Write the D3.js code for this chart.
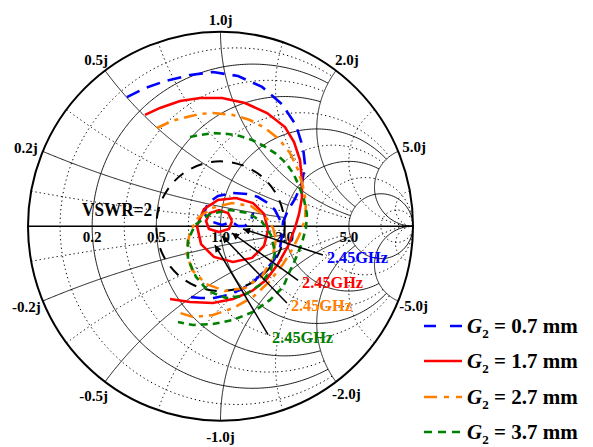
<!DOCTYPE html>
<html>
<head>
<meta charset="utf-8">
<script src="https://cdn.jsdelivr.net/npm/d3@7"></script>
<style>
  html, body { margin: 0; padding: 0; background: #fff; }
  svg text { font-family: "Liberation Serif", "Times New Roman", serif; font-weight: bold; }
</style>
</head>
<body>
<svg id="chart" width="593" height="447"></svg>
<script>
// ---- Smith chart grid values -------------------------------------------
const rMajor = [0.2, 0.5, 1, 2, 5];
const rMajorLimit = [2, 2, 5, 5, Infinity];          // |x| up to which each r-circle runs
const rMinor = [1 / 11, 1 / 3, 5 / 7, 1.4, 3, 11];
const rMinorLimit = [2, 2, 5, 5, Infinity, Infinity];
const xMajor = [0.2, 0.5, 1, 2, 5];
const xMajorLimit = [2, 2, 5, 5, Infinity];          // r up to which each x-arc runs
const xMinor = [1 / 11, 1 / 3, 5 / 7, 1.4, 3, 11];
const xMinorLimit = [2, 2, 5, 5, Infinity, Infinity];

const rTickLabels = ["0.2", "0.5", "1.0", "2.0", "5.0"];
const xTickLabels = ["0.2j", "0.5j", "1.0j", "2.0j", "5.0j"];
const xTickLabelsNeg = ["-0.2j", "-0.5j", "-1.0j", "-2.0j", "-5.0j"];
const vswr = 2;

// ---- reflection coefficient traces [Re Γ, Im Γ] -------------------------
const g07Sweep = [[-0.486,0.664],[-0.392,0.710],[-0.288,0.746],[-0.158,0.777],[-0.039,0.793],[0.091,0.772],
  [0.216,0.716],[0.319,0.628],[0.392,0.520],[0.429,0.402],[0.439,0.315],[0.423,0.222],[0.387,0.140],
  [0.351,0.083],[0.325,0.022],[0.319,-0.050],[0.309,-0.112],[0.278,-0.174],[0.231,-0.230],[0.174,-0.282],
  [0.112,-0.323],[0.039,-0.354],[-0.034,-0.369],[-0.106,-0.369],[-0.158,-0.364]];
const g07Loop = [[0.309,0.032],[0.283,0.083],[0.247,0.119],[0.195,0.150],[0.138,0.166],[0.065,0.171],
  [-0.013,0.155],[-0.065,0.119],[-0.086,0.068],[-0.055,0.027],[0.008,0.006],[0.060,0.022],[0.091,0.001],
  [0.127,0.001],[0.158,0.027],[0.169,0.068]];

const g17Sweep = [[-0.392,0.572],[-0.314,0.608],[-0.210,0.644],[-0.106,0.659],[0.008,0.659],[0.127,0.633],
  [0.242,0.582],[0.335,0.510],[0.382,0.433],[0.413,0.340],[0.423,0.238],[0.423,0.145],[0.408,0.063],
  [0.387,-0.009],[0.351,-0.102],[0.299,-0.194],[0.236,-0.277],[0.164,-0.333],[0.065,-0.374],[-0.039,-0.395],
  [-0.158,-0.390],[-0.262,-0.374]];
const g17Loop = [[0.247,-0.020],[0.226,-0.102],[0.164,-0.163],[0.065,-0.184],[-0.034,-0.158],[-0.101,-0.092],
  [-0.122,0.001],[-0.086,0.088],[-0.013,0.135],[0.081,0.145],[0.169,0.119],[0.226,0.063],[0.247,-0.020]];
const g17InnerLoop = [[0.060,0.027],[0.044,-0.014],[-0.008,-0.030],[-0.060,-0.014],[-0.075,0.027],
  [-0.055,0.068],[-0.008,0.083],[0.039,0.068],[0.060,0.027]];

const g27Sweep = [[-0.330,0.505],[-0.252,0.541],[-0.174,0.561],[-0.106,0.577],[-0.039,0.582],[0.065,0.572],
  [0.153,0.546],[0.231,0.505],[0.304,0.448],[0.361,0.376],[0.403,0.289],[0.429,0.202],[0.444,0.119],
  [0.439,0.032],[0.408,-0.050],[0.371,-0.122],[0.325,-0.194],[0.257,-0.282],[0.169,-0.364],[0.065,-0.421],
  [-0.039,-0.457],[-0.143,-0.467],[-0.210,-0.446]];
const g27Loop = [[0.288,-0.071],[0.268,-0.169],[0.216,-0.256],[0.127,-0.318],[0.023,-0.333],[-0.075,-0.297],
  [-0.148,-0.225],[-0.179,-0.128],[-0.158,-0.030],[-0.117,0.042],[-0.044,0.094],[0.060,0.119],[0.158,0.104],
  [0.231,0.052],[0.273,-0.009],[0.288,-0.071]];

const g37Sweep = [[-0.158,0.459],[-0.106,0.469],[-0.039,0.479],[0.039,0.474],[0.101,0.464],[0.164,0.443],
  [0.226,0.412],[0.283,0.376],[0.335,0.330],[0.377,0.274],[0.408,0.207],[0.434,0.135],[0.449,0.063],
  [0.444,-0.009],[0.423,-0.086],[0.392,-0.163],[0.356,-0.241],[0.325,-0.313],[0.257,-0.379],[0.169,-0.441],
  [0.065,-0.482],[-0.039,-0.503],[-0.143,-0.508],[-0.221,-0.493]];
const g37Loop = [[0.283,-0.133],[0.262,-0.225],[0.205,-0.302],[0.117,-0.359],[0.029,-0.369],[-0.065,-0.333],
  [-0.127,-0.261],[-0.169,-0.169],[-0.169,-0.071],[-0.132,0.006],[-0.055,0.063],[0.049,0.083],[0.143,0.068],
  [0.216,0.022],[0.262,-0.045],[0.283,-0.133]];

// 2.45 GHz markers: point on the trace and the label anchor
const markerPoints = [[0.117,-0.014],[0.060,-0.035],[0.008,-0.050],[-0.029,-0.097]];
const markerTails = [[0.532,-0.148],[0.403,-0.279],[0.345,-0.395],[0.247,-0.557]];
const markerText = "2.45GHz";

const seriesNames = ["0.7 mm", "1.7 mm", "2.7 mm", "3.7 mm"];
const seriesColors = ["#0000ff", "#ff0000", "#ff8000", "#008000"];
const seriesDash = ["14,8", null, "13,6,4,6", "7,5"];
const legendDash = ["12,14", null, "13,7,5,7", "8,6"];
const seriesTraces = [[g07Sweep, g07Loop], [g17Sweep, g17Loop, g17InnerLoop], [g27Sweep, g27Loop], [g37Sweep, g37Loop]];

// ---- layout ---------------------------------------------------------------
const cx = 220.5, cy = 226.2, rx = 192.5, ry = 194.5;
const svg = d3.select("#chart");
const xs = d3.scaleLinear().domain([-1, 1]).range([cx - rx, cx + rx]);
const ys = d3.scaleLinear().domain([-1, 1]).range([cy + ry, cy - ry]);
const line = d3.line().x(d => xs(d[0])).y(d => ys(d[1]));

// z = r + jx  ->  Γ
function gamma(r, x) {
  const d = (r + 1) * (r + 1) + x * x;
  return [(r * r + x * x - 1) / d, (2 * x) / d];
}
function rCircle(r, xmax) {
  const tmax = isFinite(xmax) ? Math.atan(xmax) : Math.PI / 2 - 1e-4;
  return d3.range(0, 401).map(i => gamma(r, Math.tan(-tmax + 2 * tmax * i / 400)));
}
function xArc(x, rmax) {
  const smax = isFinite(rmax) ? Math.atan(rmax) : Math.PI / 2 - 1e-4;
  return d3.range(0, 301).map(i => gamma(Math.tan(smax * i / 300), x));
}

svg.append("defs").append("clipPath").attr("id", "unit")
  .append("ellipse").attr("cx", cx).attr("cy", cy).attr("rx", rx).attr("ry", ry);

const grid = svg.append("g").attr("clip-path", "url(#unit)").attr("fill", "none");

// minor (dotted) grid
rMinor.forEach((r, i) => grid.append("path").attr("d", line(rCircle(r, rMinorLimit[i])))
  .attr("stroke", "#000").attr("stroke-width", 1).attr("stroke-dasharray", "1.3,3"));
xMinor.forEach((x, i) => [x, -x].forEach(v => grid.append("path").attr("d", line(xArc(v, xMinorLimit[i])))
  .attr("stroke", "#000").attr("stroke-width", 1).attr("stroke-dasharray", "1.3,3")));
// major (solid) grid
rMajor.forEach((r, i) => grid.append("path").attr("d", line(rCircle(r, rMajorLimit[i])))
  .attr("stroke", "#000").attr("stroke-width", 0.9));
xMajor.forEach((x, i) => [x, -x].forEach(v => grid.append("path").attr("d", line(xArc(v, xMajorLimit[i])))
  .attr("stroke", "#000").attr("stroke-width", 0.9)));

// real axis and outer circle
svg.append("line").attr("x1", xs(-1)).attr("x2", xs(1)).attr("y1", ys(0)).attr("y2", ys(0))
  .attr("stroke", "#000").attr("stroke-width", 1.6);
svg.append("ellipse").attr("cx", cx).attr("cy", cy).attr("rx", rx).attr("ry", ry)
  .attr("fill", "none").attr("stroke", "#000").attr("stroke-width", 2);

// tick labels
const tickFont = 15;
rMajor.forEach((r, i) => svg.append("text").attr("x", xs(gamma(r, 0)[0])).attr("y", ys(0) + 16)
  .attr("text-anchor", "middle").attr("font-size", tickFont).text(rTickLabels[i]));
const posOffsets = [[-5, 2, "end"], [3, -6, "end"], [0, -7, "middle"], [-1, -6, "start"], [4, 1, "start"]];
const negOffsets = [[-2, 11, "end"], [3, 19, "end"], [0, 21, "middle"], [-4, 17, "start"], [1, 10, "start"]];
xMajor.forEach((x, i) => {
  const p = gamma(0, x), n = gamma(0, -x);
  svg.append("text").attr("x", xs(p[0]) + posOffsets[i][0]).attr("y", ys(p[1]) + posOffsets[i][1])
    .attr("text-anchor", posOffsets[i][2]).attr("font-size", tickFont).text(xTickLabels[i]);
  svg.append("text").attr("x", xs(n[0]) + negOffsets[i][0]).attr("y", ys(n[1]) + negOffsets[i][1])
    .attr("text-anchor", negOffsets[i][2]).attr("font-size", tickFont).text(xTickLabelsNeg[i]);
});

// VSWR = 2 circle, |Γ| = (s-1)/(s+1)
const gv = (vswr - 1) / (vswr + 1);
svg.append("ellipse").attr("cx", xs(0)).attr("cy", ys(0))
  .attr("rx", xs(gv) - xs(0)).attr("ry", ys(0) - ys(gv))
  .attr("fill", "none").attr("stroke", "#000").attr("stroke-width", 2).attr("stroke-dasharray", "12,9");
svg.append("text").attr("x", 82).attr("y", 216).attr("font-size", 19)
  .attr("textLength", 70).attr("lengthAdjust", "spacingAndGlyphs").text("VSWR=" + vswr);

// traces
seriesTraces.forEach((traces, i) => traces.forEach(tr => svg.append("path").attr("d", line(tr))
  .attr("fill", "none").attr("stroke", seriesColors[i]).attr("stroke-width", 2.6)
  .attr("stroke-dasharray", seriesDash[i])));

// 2.45 GHz arrows
svg.select("defs").append("marker").attr("id", "head").attr("viewBox", "0 0 10 10")
  .attr("refX", 10).attr("refY", 5).attr("markerWidth", 10).attr("markerHeight", 7)
  .attr("markerUnits", "userSpaceOnUse").attr("orient", "auto")
  .append("path").attr("d", "M0,0L10,5L0,10Z").attr("fill", "#000");
markerPoints.forEach((p, i) => {
  const t = markerTails[i];
  svg.append("line").attr("x1", xs(t[0])).attr("y1", ys(t[1])).attr("x2", xs(p[0])).attr("y2", ys(p[1]))
    .attr("stroke", "#000").attr("stroke-width", 1.5).attr("marker-end", "url(#head)");
  svg.append("text").attr("x", xs(t[0]) + 4).attr("y", ys(t[1]) + 8).attr("font-size", 17)
    .attr("textLength", 61).attr("lengthAdjust", "spacingAndGlyphs")
    .attr("fill", seriesColors[i]).text(markerText);
});

// legend
const legendY = [326, 361, 397, 432];
seriesNames.forEach((name, i) => {
  const y = legendY[i];
  svg.append("line").attr("x1", 424).attr("x2", 462).attr("y1", y).attr("y2", y)
    .attr("stroke", seriesColors[i]).attr("stroke-width", 2.6).attr("stroke-dasharray", legendDash[i]);
  const t = svg.append("text").attr("x", 467).attr("y", y + 7).attr("font-size", 21);
  t.append("tspan").attr("font-style", "italic").text("G");
  t.append("tspan").attr("font-size", 13).attr("dy", 5).text("2");
  t.append("tspan").attr("dy", -5).text(" = " + name);
});
</script>
</body>
</html>
